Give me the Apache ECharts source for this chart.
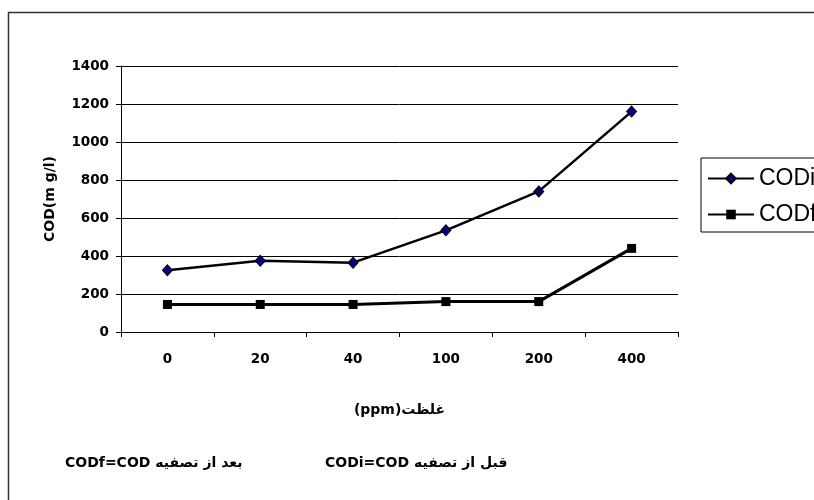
<!DOCTYPE html>
<html>
<head>
<meta charset="utf-8">
<script src="https://cdn.jsdelivr.net/npm/echarts@6/dist/echarts.min.js"></script>
<style>
html,body{margin:0;padding:0;background:#fff;}
#chart{width:814px;height:500px;}
</style>
</head>
<body>
<div id="chart"></div>
<script>
var categories = ['0', '20', '40', '100', '200', '400'];
var codiValues = [325, 375, 365, 535, 740, 1160];
var codfValues = [145, 145, 145, 160, 160, 440];
var yTicks = { min: 0, max: 1400, interval: 200 };
var seriesNames = ['CODi', 'CODf'];
var xAxisTitle = '(ppm)غلظت';
var yAxisTitle = 'COD(m g/l)';
var noteCODf = 'CODf=COD بعد از تصفیه';
var noteCODi = 'CODi=COD قبل از تصفیه';

var BOLD = '"DejaVu Sans", "Liberation Sans", sans-serif';
var REG = '"Liberation Sans", Arial, "DejaVu Sans", sans-serif';
var chart = echarts.init(document.getElementById('chart'), null, { renderer: 'canvas' });
chart.setOption({
  animation: false,
  backgroundColor: '#ffffff',
  grid: { left: 121, right: 136, top: 66, bottom: 168, containLabel: false },
  legend: {
    orient: 'vertical',
    left: 701,
    top: 158,
    padding: [9, 60, 6, 6],
    itemGap: 13,
    itemWidth: 46,
    itemHeight: 12,
    borderColor: '#000',
    borderWidth: 1,
    borderRadius: 0,
    textStyle: { fontFamily: REG, fontSize: 23, color: '#000' },
    data: seriesNames
  },
  xAxis: {
    type: 'category',
    data: categories,
    boundaryGap: true,
    axisLine: { lineStyle: { color: '#000', width: 1 } },
    axisTick: { show: true, length: 5, inside: false, lineStyle: { color: '#000' } },
    axisLabel: { fontFamily: BOLD, fontWeight: 'bold', fontSize: 13.5, color: '#000', margin: 20 },
    name: xAxisTitle,
    nameLocation: 'middle',
    nameGap: 71,
    nameTextStyle: { fontFamily: BOLD, fontWeight: 'bold', fontSize: 14, color: '#000' }
  },
  yAxis: {
    type: 'value',
    min: yTicks.min,
    max: yTicks.max,
    interval: yTicks.interval,
    axisLine: { show: true, lineStyle: { color: '#000', width: 1 } },
    axisTick: { show: true, length: 5, lineStyle: { color: '#000' } },
    axisLabel: {
      fontFamily: BOLD, fontWeight: 'bold', fontSize: 13.5, color: '#000', margin: 12,
      formatter: function (v) { return String(v); }
    },
    splitLine: { show: true, lineStyle: { color: '#000', width: 1 } },
    name: yAxisTitle,
    nameLocation: 'middle',
    nameGap: 64,
    nameRotate: 90,
    nameTextStyle: { fontFamily: BOLD, fontWeight: 'bold', fontSize: 14, color: '#000' }
  },
  series: [
    {
      name: seriesNames[0],
      type: 'line',
      data: codiValues,
      symbol: 'diamond',
      symbolSize: [10, 11],
      lineStyle: { color: '#000', width: 2.5 },
      itemStyle: { color: '#000080', borderColor: '#000', borderWidth: 1 },
      z: 3
    },
    {
      name: seriesNames[1],
      type: 'line',
      data: codfValues,
      symbol: 'rect',
      symbolSize: 9,
      lineStyle: { color: '#000', width: 3 },
      itemStyle: { color: '#000', borderColor: '#000', borderWidth: 0 },
      z: 3
    }
  ],
  graphic: [
    {
      type: 'rect',
      left: 6, top: 10,
      shape: { width: 900, height: 600 },
      style: { fill: 'none', stroke: '#333', lineWidth: 1.5 },
      silent: true
    },
    {
      type: 'text',
      left: 65, top: 456,
      style: { text: noteCODf, font: 'bold 14px ' + BOLD, fill: '#000' }
    },
    {
      type: 'text',
      left: 325, top: 456,
      style: { text: noteCODi, font: 'bold 14px ' + BOLD, fill: '#000' }
    }
  ]
});
</script>
</body>
</html>
